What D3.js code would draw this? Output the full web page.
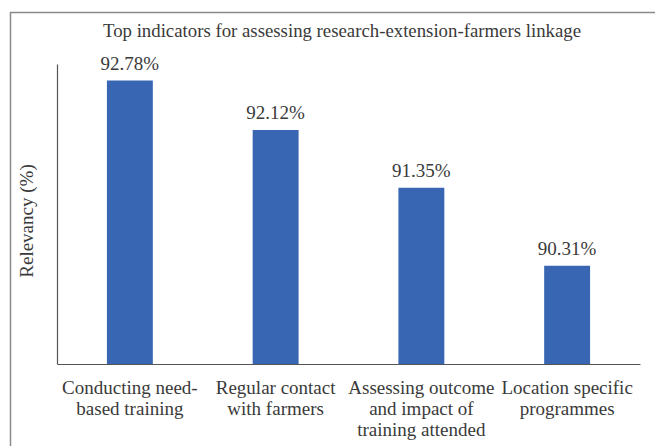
<!DOCTYPE html>
<html>
<head>
<meta charset="utf-8">
<script src="https://cdn.jsdelivr.net/npm/d3@7"></script>
<style>
  html, body { margin: 0; padding: 0; background: #fff; }
  svg { display: block; }
  svg text, svg tspan { font-family: "Liberation Serif", "Times New Roman", Tinos, Times, serif !important; }
</style>
</head>
<body>
<svg id="chart" width="655" height="446"></svg>
<script>
const categories = [
  ["Conducting need-", "based training"],
  ["Regular contact", "with farmers"],
  ["Assessing outcome", "and impact of", "training attended"],
  ["Location specific", "programmes"]
];
const values = [92.78, 92.12, 91.35, 90.31];
const yDomain = [89, 93];
const title = "Top indicators for assessing research-extension-farmers linkage";
const yLabel = "Relevancy (%)";

const FONT = '"Liberation Serif", "Times New Roman", Tinos, Times, serif';
const TEXT_COLOR = "#3a3a3a";
const FS = "19px";

const svg = d3.select("#chart");
const W = 655, H = 446;
const plot = { left: 57, right: 640, top: 64, bottom: 364 };

function styleText(sel, size) {
  return sel.attr("font-family", "Liberation Serif")
    .style("font-family", FONT).style("font-size", size).attr("fill", TEXT_COLOR);
}

// outer frame (top and left edges visible)
svg.append("path")
  .attr("d", `M10.5,${H} L10.5,12.5 L${W},12.5`)
  .attr("fill", "none").attr("stroke", "#8a8a8a").attr("stroke-width", 1.5);

const ids = categories.map((d, i) => i);
const x = d3.scaleBand().domain(ids).range([plot.left, plot.right]).paddingInner(0.685).paddingOuter(0.3425);
const y = d3.scaleLinear().domain(yDomain).range([plot.bottom, plot.top]);

// title
styleText(svg.append("text")
  .attr("x", 342).attr("y", 37)
  .attr("text-anchor", "middle"), "18.8px")
  .text(title);

// y label
styleText(svg.append("text")
  .attr("transform", `translate(33,221) rotate(-90)`)
  .attr("text-anchor", "middle"), FS)
  .text(yLabel);

// bars
svg.append("g").selectAll("rect").data(values).join("rect")
  .attr("x", (d, i) => x(i))
  .attr("width", x.bandwidth())
  .attr("y", d => y(d))
  .attr("height", d => y(yDomain[0]) - y(d))
  .attr("fill", "#3866b3");

// value labels
styleText(svg.append("g").selectAll("text").data(values).join("text")
  .attr("x", (d, i) => x(i) + x.bandwidth() / 2)
  .attr("y", d => y(d) - 11)
  .attr("text-anchor", "middle"), FS)
  .text(d => d.toFixed(2) + "%");

// y axis
const yAxis = svg.append("g").attr("transform", `translate(${plot.left},0)`)
  .call(d3.axisLeft(y).tickValues([]).tickSizeOuter(0));
yAxis.attr("font-family", null).attr("font-size", null);
yAxis.select(".domain").attr("stroke", "#555").attr("stroke-width", 1.2);

// x axis
const xAxis = svg.append("g").attr("transform", `translate(0,${plot.bottom})`)
  .call(d3.axisBottom(x).tickSize(0).tickSizeOuter(0).tickFormat(""));
xAxis.attr("font-family", null).attr("font-size", null);
xAxis.select(".domain").attr("stroke", "#555").attr("stroke-width", 1.2);
xAxis.selectAll(".tick text").remove();
styleText(xAxis.selectAll(".tick").append("text")
  .attr("text-anchor", "middle"), FS)
  .each(function(i) {
    const t = d3.select(this);
    categories[i].forEach((line, k) => {
      t.append("tspan").attr("x", 0).attr("y", 30 + k * 21)
        .style("font-family", FONT).text(line);
    });
  });
</script>
</body>
</html>
